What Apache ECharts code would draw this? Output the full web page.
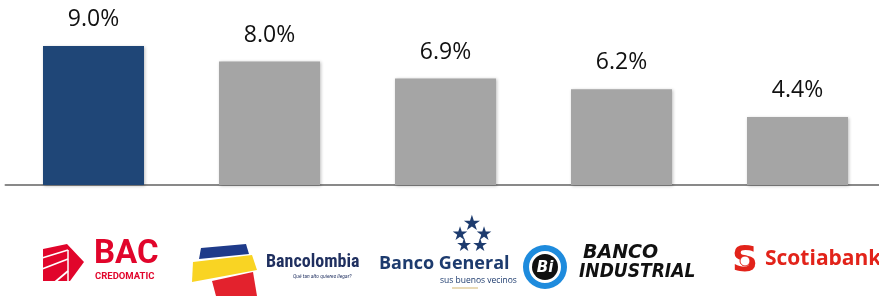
<!DOCTYPE html>
<html>
<head>
<meta charset="utf-8">
<script src="https://cdn.jsdelivr.net/npm/echarts@6/dist/echarts.min.js"></script>
<style>
html, body { margin: 0; padding: 0; background: #fff; }
#main { width: 879px; height: 296px; }
</style>
</head>
<body>
<div id="main"></div>
<script>
// datos del gráfico
var banks = ['BAC Credomatic', 'Bancolombia', 'Banco General', 'Banco Industrial', 'Scotiabank'];
var values = [9.0, 8.0, 6.9, 6.2, 4.4];
var barColors = ['#1F4677', '#A5A5A5', '#A5A5A5', '#A5A5A5', '#A5A5A5'];

var myChart = echarts.init(document.getElementById('main'));

var red = '#E1052B';
var navy = '#1D3B6E';

function star(x, y, size) {
    return { type: 'text', style: { x: x, y: y, text: '★', font: size + 'px "DejaVu Sans"', fill: navy, align: 'center', verticalAlign: 'middle' } };
}

// logos aproximados con elementos graphic
var logos = [
    // BAC Credomatic
    { type: 'polygon', shape: { points: [[43, 249], [67, 244], [84, 262], [70, 281], [43, 281]] }, style: { fill: red } },
    { type: 'line', shape: { x1: 42, y1: 258, x2: 68, y2: 250 }, style: { stroke: '#fff', lineWidth: 1.8 } },
    { type: 'line', shape: { x1: 42, y1: 269, x2: 68, y2: 259 }, style: { stroke: '#fff', lineWidth: 1.8 } },
    { type: 'line', shape: { x1: 55, y1: 282, x2: 68, y2: 271 }, style: { stroke: '#fff', lineWidth: 1.8 } },
    { type: 'line', shape: { x1: 68, y1: 250, x2: 68, y2: 282 }, style: { stroke: '#fff', lineWidth: 1.5 } },
    { type: 'text', left: 94, top: 238, style: { text: 'BAC', font: 'bold 33px "Liberation Sans Narrow", "Roboto"', fill: red } },
    { type: 'text', left: 95, top: 272, style: { text: 'CREDOMATIC', font: 'bold 9.5px "Roboto"', fill: red } },

    // Bancolombia
    { type: 'polygon', shape: { points: [[201, 248], [246, 244], [249, 254], [199, 259]] }, style: { fill: '#1F3B8A' } },
    { type: 'polygon', shape: { points: [[193, 262], [252, 255], [257, 270], [192, 282]] }, style: { fill: '#F9D423' } },
    { type: 'polygon', shape: { points: [[212, 281], [253, 272], [257, 296], [216, 296]] }, style: { fill: '#E3222D' } },
    { type: 'text', left: 266, top: 253, style: { text: 'Bancolombia', font: 'bold 18px "Roboto Condensed", "Roboto"', fill: '#1F2F5F' } },
    { type: 'text', left: 293, top: 274, style: { text: 'Qué tan alto quieres llegar?', font: 'italic 5px "Roboto"', fill: '#1F2F5F' } },

    // Banco General
    star(472, 225, 21),
    star(460, 235, 19),
    star(484, 235, 19),
    star(464, 246, 18),
    star(480, 246, 18),
    { type: 'text', left: 379, top: 255, style: { text: 'Banco General', font: 'bold 18px "Open Sans"', fill: navy } },
    { type: 'text', left: 440, top: 276, style: { text: 'sus buenos vecinos', font: '8.5px "Open Sans"', fill: navy } },
    { type: 'line', shape: { x1: 452, y1: 288, x2: 478, y2: 288 }, style: { stroke: '#C8A24A', lineWidth: 0.8 } },

    // Banco Industrial
    { type: 'ring', shape: { cx: 545, cy: 267, r: 22, r0: 16 }, style: { fill: '#1E8BDD' } },
    { type: 'circle', shape: { cx: 545, cy: 267, r: 13 }, style: { fill: '#111' } },
    { type: 'text', style: { x: 545, y: 268, text: 'Bi', font: 'italic bold 15px "DejaVu Sans"', fill: '#fff', align: 'center', verticalAlign: 'middle' } },
    { type: 'text', left: 583, top: 244, style: { text: 'BANCO', font: 'italic 900 19px "DejaVu Sans"', fill: '#111' } },
    { type: 'text', left: 579, top: 263, style: { text: 'INDUSTRIAL', font: 'italic 900 19px "DejaVu Sans Condensed", "DejaVu Sans"', fill: '#111' } },

    // Scotiabank
    { type: 'text', style: { x: 745, y: 262, text: 'S', font: 'bold 36px "DejaVu Sans"', fill: '#E2231A', align: 'center', verticalAlign: 'middle' } },
    { type: 'circle', shape: { cx: 745, cy: 261, r: 5 }, style: { fill: '#fff', stroke: '#E2231A', lineWidth: 1 } },
    { type: 'text', left: 765, top: 249, style: { text: 'Scotiabank', font: 'bold 21px "Open Sans"', fill: '#E2231A' } }
];

var option = {
    animation: false,
    grid: { left: 5.5, width: 880, top: 30.6, height: 154.4, outerBoundsMode: 'none' },
    xAxis: {
        type: 'category',
        data: banks,
        axisLine: { lineStyle: { color: '#898989', width: 2 } },
        axisTick: { show: false },
        axisLabel: { show: false }
    },
    yAxis: {
        type: 'value',
        min: 0,
        max: 10,
        show: false,
        splitLine: { show: false }
    },
    series: [{
        type: 'bar',
        barWidth: 101,
        data: values.map(function (v, i) {
            return { value: v, itemStyle: { color: barColors[i] } };
        }),
        itemStyle: {
            shadowBlur: 3,
            shadowColor: 'rgba(0,0,0,0.25)',
            shadowOffsetX: 1,
            shadowOffsetY: 1
        },
        label: {
            show: true,
            position: 'top',
            distance: 15,
            fontFamily: 'Open Sans',
            fontSize: 23,
            color: '#111',
            formatter: function (p) { return p.value.toFixed(1) + '%'; }
        }
    }],
    graphic: logos
};

myChart.setOption(option);
</script>
</body>
</html>
